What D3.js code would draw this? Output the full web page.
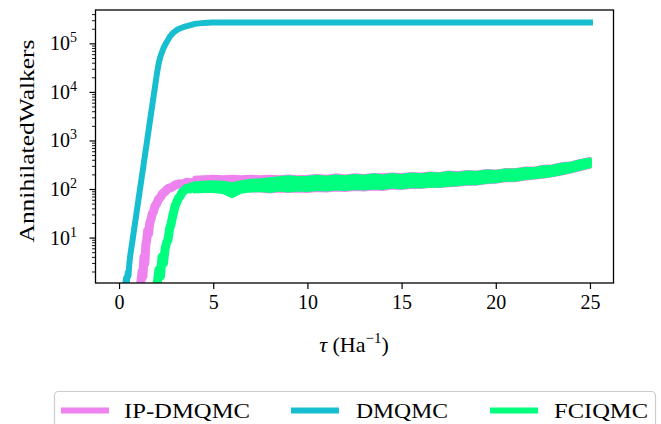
<!DOCTYPE html>
<html><head><meta charset="utf-8">
<script src="https://cdn.jsdelivr.net/npm/d3@7"></script>
<style>
html,body{margin:0;padding:0;background:#fff;}
svg{display:block;}
text{font-family:"Liberation Serif","Times New Roman",serif;fill:#000;}
</style></head>
<body>
<svg id="chart" width="661" height="424"></svg>
<script>
// ---------------- data ----------------
const seriesNames = ["IP-DMQMC", "DMQMC", "FCIQMC"];
const seriesColors = ["#ee82ee", "#17becf", "#00ff7f"];
const xTicks = [0, 5, 10, 15, 20, 25];
const yTickExps = [1, 2, 3, 4, 5];

// DMQMC (tau, walkers) - smooth curve
const dmqmc = [[0.30,1],[0.34,1.2],[0.38,1.5],[0.42,1.2],[0.46,1.9],[0.50,1.6],[0.55,3],[0.60,4.4],
  [0.70,8],[0.80,14.8],[0.90,27],[1.00,50],[1.10,92],[1.20,170],[1.30,310],[1.40,575],[1.50,1050],
  [1.60,1950],[1.70,3600],[1.80,6600],[1.90,12000],[2.00,22400],[2.10,38000],[2.20,54000],[2.35,78000],
  [2.50,102000],[2.71,140000],[2.90,168000],[3.13,195000],[3.50,222000],[4.03,252000],[4.50,264000],
  [4.92,268000],[6,270000],[10,270000],[15,270000],[20,270000],[25,270000]];

// growth phase of the noisy series (tau, walkers)
const ipRise = [[1.12,1],[1.17,1.3],[1.22,2],[1.27,1.6],[1.32,4],[1.37,3],[1.42,7],[1.47,9],[1.52,14],
  [1.57,12],[1.63,20],[1.70,24],[1.76,31],[1.83,34],[1.90,44],[2.00,50],[2.10,62],[2.20,68],[2.30,80],
  [2.44,88],[2.60,102],[2.80,108],[3.00,122],[3.20,128],[3.40,126],[3.60,138],[3.80,132],[4.00,138],[4.20,134]];
const fciRise = [[1.98,1],[2.05,1.3],[2.12,2.2],[2.20,1.6],[2.28,4],[2.36,3],[2.45,6],[2.53,8],[2.60,9],
  [2.68,15],[2.76,19],[2.85,28],[2.92,36],[2.97,44],[3.05,52],[3.15,64],[3.25,72],[3.35,86],[3.45,92],
  [3.60,104],[3.75,100],[3.88,112],[4.00,110],[4.20,114]];

// plateau: noisy band envelope, tau = 4.0, 4.5, ..., 25.0
const bandTau = d3.range(4, 25.001, 0.5);
const ipUpper = [170,174,178,174,178,174,178,174,178,174,182,174,178,186,178,191,182,191,186,195,191,200,195,204,
  200,209,204,219,214,224,219,234,229,245,245,263,263,288,295,324,339,380,417];
const ipLower = [100,102,100,98,100,95,93,93,89,93,91,93,91,95,93,98,95,100,98,102,100,107,105,110,
  110,115,115,120,123,129,129,138,141,151,151,162,170,178,191,209,229,257,288];
const fciUpper = [132,135,138,135,126,138,148,151,158,166,174,166,170,178,170,182,174,186,178,191,182,195,186,200,
  191,204,200,214,204,219,214,229,224,240,240,257,257,282,288,316,331,372,407];
const fciLower = [89,91,91,87,71,89,93,95,91,98,93,98,95,100,98,102,100,105,102,107,105,112,107,115,
  112,117,117,123,126,132,132,141,145,155,155,166,174,182,195,214,234,263,295];

const bands = [
  {rise: ipRise, upper: ipUpper, lower: ipLower},
  null,
  {rise: fciRise, upper: fciUpper, lower: fciLower}
];

// ---------------- layout ----------------
const svg = d3.select("#chart");
const L = 95.5, R = 613.5, T = 10, B = 283;
const x = d3.scaleLinear().domain([-1.25, 26.25]).range([L, R]);
const y = d3.scaleLog().domain([Math.pow(10, 0.064), Math.pow(10, 5.687)]).range([B, T]);

svg.append("defs").append("clipPath").attr("id", "clip")
  .append("rect").attr("x", L).attr("y", T).attr("width", R - L).attr("height", B - T);

const line = d3.line().x(d => x(d[0])).y(d => y(Math.max(d[1], 0.5)));
const area = d3.area().x(d => x(d.t)).y0(d => y(d.lo)).y1(d => y(d.hi)).curve(d3.curveLinear);
const g = svg.append("g").attr("clip-path", "url(#clip)");

[0, 1, 2].forEach(i => {
  const c = seriesColors[i];
  if (i === 1) {
    g.append("path").attr("d", line(dmqmc)).attr("fill", "none")
      .attr("stroke", c).attr("stroke-width", 6)
      .attr("stroke-linejoin", "round").attr("stroke-linecap", "square");
    return;
  }
  const b = bands[i];
  g.append("path").attr("d", line(b.rise)).attr("fill", "none")
    .attr("stroke", c).attr("stroke-width", 9)
    .attr("stroke-linejoin", "round").attr("stroke-linecap", "square");
  const pts = bandTau.map((t, k) => ({t: t, hi: b.upper[k], lo: b.lower[k]}));
  g.append("path").attr("d", area(pts)).attr("fill", c)
    .attr("stroke", c).attr("stroke-width", 4).attr("stroke-linejoin", "round");
});

// frame
svg.append("rect").attr("x", L).attr("y", T).attr("width", R - L).attr("height", B - T)
  .attr("fill", "none").attr("stroke", "#000").attr("stroke-width", 1.3);

// x axis
const xAxis = d3.axisBottom(x).tickValues(xTicks).tickSize(6).tickPadding(6).tickFormat(d3.format("d"));
const xg = svg.append("g").attr("transform", `translate(0,${B})`).call(xAxis);
xg.select(".domain").remove();
xg.selectAll(".tick line").attr("stroke", "#000").attr("stroke-width", 1.2);
xg.selectAll(".tick text").attr("font-family", "Liberation Serif").attr("font-size", 20).attr("fill", "#000");

// y axis minor ticks
const [d0, d1] = y.domain();
const minor = [];
for (let e = 0; e <= 5; e++) for (let m = 2; m <= 9; m++) {
  const v = m * Math.pow(10, e);
  if (v >= d0 && v <= d1) minor.push(v);
}
const yMinor = d3.axisLeft(y).tickValues(minor).tickSize(3.5).tickFormat("");
const ym = svg.append("g").attr("transform", `translate(${L},0)`).call(yMinor);
ym.select(".domain").remove();
ym.selectAll(".tick line").attr("stroke", "#000").attr("stroke-width", 0.9);

const yMajor = d3.axisLeft(y).tickValues(yTickExps.map(e => Math.pow(10, e))).tickSize(6).tickFormat("");
const yg = svg.append("g").attr("transform", `translate(${L},0)`).call(yMajor);
yg.select(".domain").remove();
yg.selectAll(".tick line").attr("stroke", "#000").attr("stroke-width", 1.2);

// y tick labels with superscripts
yTickExps.forEach(e => {
  const t = svg.append("text").attr("x", 77).attr("y", y(Math.pow(10, e)) + 7)
    .attr("text-anchor", "end").attr("font-size", 20);
  t.append("tspan").text("10");
  t.append("tspan").attr("dy", -8).attr("font-size", 14).text(String(e));
});

// axis labels
const xl = svg.append("text").attr("x", 354).attr("y", 352).attr("text-anchor", "middle").attr("font-size", 22);
xl.append("tspan").attr("font-style", "italic").text("τ");
xl.append("tspan").text(" (Ha");
xl.append("tspan").attr("dy", -9).attr("font-size", 15).text("−1");
xl.append("tspan").attr("dy", 9).text(")");

svg.append("text").attr("transform", "translate(34,141) rotate(-90)")
  .attr("text-anchor", "middle").attr("font-size", 20)
  .attr("textLength", 203).attr("lengthAdjust", "spacingAndGlyphs")
  .text("AnnihilatedWalkers");

// legend
svg.append("rect").attr("x", 54.5).attr("y", 391.5).attr("width", 601).attr("height", 60)
  .attr("rx", 4).attr("fill", "#fff").attr("stroke", "#cccccc").attr("stroke-width", 1.2);
const legX = [61, 291, 490];
const legTextX = [124, 356, 554];
const legTextW = [126, 92, 94];
seriesNames.forEach((n, i) => {
  svg.append("line").attr("x1", legX[i]).attr("x2", legX[i] + 48).attr("y1", 410.5).attr("y2", 410.5)
    .attr("stroke", seriesColors[i]).attr("stroke-width", 6);
  svg.append("text").attr("x", legTextX[i]).attr("y", 418).attr("font-size", 20)
    .attr("textLength", legTextW[i]).attr("lengthAdjust", "spacingAndGlyphs").text(n);
});
</script>
</body></html>
